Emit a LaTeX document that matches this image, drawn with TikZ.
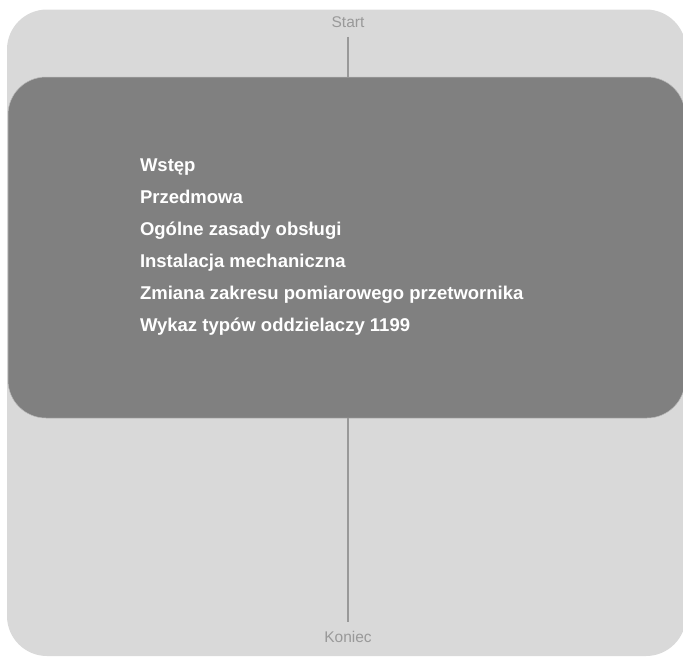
\documentclass[tikz,border=0pt]{standalone}
\usepackage{fontspec}
\setmainfont{Liberation Sans}
\definecolor{panel}{HTML}{D9D9D9}
\definecolor{chapters}{HTML}{808080}
\definecolor{spine}{HTML}{999999}

\begin{document}
\begin{tikzpicture}[x=1pt, y=-1pt, every node/.style={outer sep=0pt},
  endlabel/.style={text=spine, inner sep=9pt, font=\fontsize{15.5}{18}\selectfont},
  chapterbox/.style={fill=chapters, draw=spine!70, line width=0.5pt, rounded corners=38pt,
    minimum width=677pt, minimum height=341pt, inner sep=0pt}]
\useasboundingbox (0,0) rectangle (683,657);
% background panel
\fill[panel, rounded corners=40pt] (7,9.5) rectangle (686,656);

\node[chapterbox] (box) at (346.5,247.5) {};
\node[endlabel] (start) at (348,22.5) {Start};
\node[endlabel] (koniec) at (348,637) {Koniec};

\node[anchor=west, inner sep=0pt, text=white, align=left,
  font=\bfseries\fontsize{18.5}{32}\selectfont] (list) at (140,247) {Wstęp\\
Przedmowa\\
Ogólne zasady obsługi\\
Instalacja mechaniczna\\
Zmiana zakresu pomiarowego przetwornika\\
Wykaz typów oddzielaczy 1199};

\draw[spine, line width=1.5pt] (start) -- (start |- box.north);
\draw[spine, line width=1.5pt] (koniec |- box.south) -- (koniec);
\end{tikzpicture}
\end{document}
